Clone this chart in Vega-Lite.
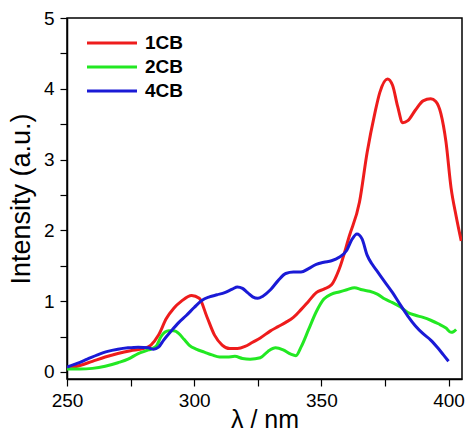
{
  "$schema": "https://vega.github.io/schema/vega-lite/v6.json",
  "width": 395,
  "height": 361,
  "autosize": "none",
  "padding": {"left": 67, "top": 18, "right": 8, "bottom": 56},
  "background": "white",
  "config": {
    "font": "Liberation Sans",
    "view": {"stroke": "black", "strokeWidth": 1.5},
    "axis": {"grid": false, "domainColor": "black", "tickColor": "black", "labelColor": "black", "titleColor": "black", "labelFont": "Liberation Sans", "titleFont": "Liberation Sans", "titleFontWeight": "normal", "labelFontSize": 19, "tickWidth": 1.2, "domainWidth": 1.5}
  },
  "data": {"values": [
    {"s":"1CB","x":250,"y":0.05},{"s":"1CB","x":255,"y":0.09},{"s":"1CB","x":260,"y":0.15},{"s":"1CB","x":265,"y":0.21},{"s":"1CB","x":270,"y":0.26},{"s":"1CB","x":275,"y":0.30},{"s":"1CB","x":280,"y":0.33},{"s":"1CB","x":283,"y":0.38},{"s":"1CB","x":286,"y":0.52},{"s":"1CB","x":289,"y":0.75},{"s":"1CB","x":292,"y":0.90},{"s":"1CB","x":295,"y":1.0},{"s":"1CB","x":299,"y":1.08},{"s":"1CB","x":302,"y":1.04},{"s":"1CB","x":305,"y":0.78},{"s":"1CB","x":308,"y":0.52},{"s":"1CB","x":311,"y":0.38},{"s":"1CB","x":314,"y":0.33},{"s":"1CB","x":317,"y":0.33},{"s":"1CB","x":320,"y":0.36},{"s":"1CB","x":323,"y":0.42},{"s":"1CB","x":326,"y":0.48},{"s":"1CB","x":330,"y":0.58},{"s":"1CB","x":333,"y":0.64},{"s":"1CB","x":336,"y":0.70},{"s":"1CB","x":339,"y":0.77},{"s":"1CB","x":342,"y":0.88},{"s":"1CB","x":345,"y":1.0},{"s":"1CB","x":348,"y":1.12},{"s":"1CB","x":351,"y":1.17},{"s":"1CB","x":354,"y":1.23},{"s":"1CB","x":357,"y":1.45},{"s":"1CB","x":361,"y":1.92},{"s":"1CB","x":365,"y":2.4},{"s":"1CB","x":368,"y":3.1},{"s":"1CB","x":371,"y":3.65},{"s":"1CB","x":373,"y":3.95},{"s":"1CB","x":376,"y":4.14},{"s":"1CB","x":378,"y":4.05},{"s":"1CB","x":380,"y":3.75},{"s":"1CB","x":382,"y":3.52},{"s":"1CB","x":384,"y":3.55},{"s":"1CB","x":387,"y":3.7},{"s":"1CB","x":390,"y":3.83},{"s":"1CB","x":393,"y":3.86},{"s":"1CB","x":395,"y":3.82},{"s":"1CB","x":397,"y":3.65},{"s":"1CB","x":399,"y":3.25},{"s":"1CB","x":401,"y":2.6},{"s":"1CB","x":403,"y":2.2},{"s":"1CB","x":405,"y":1.85},
    {"s":"2CB","x":250,"y":0.04},{"s":"2CB","x":255,"y":0.04},{"s":"2CB","x":260,"y":0.05},{"s":"2CB","x":265,"y":0.08},{"s":"2CB","x":270,"y":0.13},{"s":"2CB","x":274,"y":0.18},{"s":"2CB","x":278,"y":0.26},{"s":"2CB","x":282,"y":0.31},{"s":"2CB","x":285,"y":0.36},{"s":"2CB","x":287,"y":0.5},{"s":"2CB","x":290,"y":0.58},{"s":"2CB","x":292,"y":0.58},{"s":"2CB","x":294,"y":0.54},{"s":"2CB","x":296,"y":0.46},{"s":"2CB","x":298,"y":0.38},{"s":"2CB","x":301,"y":0.32},{"s":"2CB","x":304,"y":0.28},{"s":"2CB","x":307,"y":0.24},{"s":"2CB","x":310,"y":0.21},{"s":"2CB","x":313,"y":0.21},{"s":"2CB","x":316,"y":0.22},{"s":"2CB","x":319,"y":0.19},{"s":"2CB","x":322,"y":0.18},{"s":"2CB","x":326,"y":0.2},{"s":"2CB","x":329,"y":0.29},{"s":"2CB","x":332,"y":0.34},{"s":"2CB","x":335,"y":0.31},{"s":"2CB","x":338,"y":0.25},{"s":"2CB","x":340,"y":0.23},{"s":"2CB","x":342,"y":0.35},{"s":"2CB","x":345,"y":0.6},{"s":"2CB","x":348,"y":0.85},{"s":"2CB","x":351,"y":1.03},{"s":"2CB","x":354,"y":1.1},{"s":"2CB","x":357,"y":1.13},{"s":"2CB","x":360,"y":1.16},{"s":"2CB","x":363,"y":1.19},{"s":"2CB","x":366,"y":1.16},{"s":"2CB","x":369,"y":1.14},{"s":"2CB","x":372,"y":1.1},{"s":"2CB","x":375,"y":1.03},{"s":"2CB","x":378,"y":0.98},{"s":"2CB","x":381,"y":0.92},{"s":"2CB","x":384,"y":0.84},{"s":"2CB","x":387,"y":0.8},{"s":"2CB","x":390,"y":0.77},{"s":"2CB","x":393,"y":0.73},{"s":"2CB","x":396,"y":0.68},{"s":"2CB","x":399,"y":0.62},{"s":"2CB","x":401,"y":0.56},{"s":"2CB","x":402,"y":0.57},{"s":"2CB","x":403,"y":0.6},
    {"s":"4CB","x":250,"y":0.07},{"s":"4CB","x":254,"y":0.12},{"s":"4CB","x":258,"y":0.18},{"s":"4CB","x":262,"y":0.24},{"s":"4CB","x":266,"y":0.29},{"s":"4CB","x":270,"y":0.32},{"s":"4CB","x":274,"y":0.34},{"s":"4CB","x":278,"y":0.35},{"s":"4CB","x":282,"y":0.34},{"s":"4CB","x":284,"y":0.32},{"s":"4CB","x":286,"y":0.35},{"s":"4CB","x":288,"y":0.45},{"s":"4CB","x":291,"y":0.58},{"s":"4CB","x":294,"y":0.7},{"s":"4CB","x":297,"y":0.8},{"s":"4CB","x":300,"y":0.91},{"s":"4CB","x":303,"y":1.01},{"s":"4CB","x":306,"y":1.06},{"s":"4CB","x":309,"y":1.09},{"s":"4CB","x":312,"y":1.12},{"s":"4CB","x":315,"y":1.17},{"s":"4CB","x":317,"y":1.2},{"s":"4CB","x":319,"y":1.18},{"s":"4CB","x":321,"y":1.12},{"s":"4CB","x":323,"y":1.06},{"s":"4CB","x":325,"y":1.04},{"s":"4CB","x":327,"y":1.07},{"s":"4CB","x":330,"y":1.16},{"s":"4CB","x":333,"y":1.29},{"s":"4CB","x":336,"y":1.39},{"s":"4CB","x":339,"y":1.41},{"s":"4CB","x":342,"y":1.41},{"s":"4CB","x":345,"y":1.46},{"s":"4CB","x":348,"y":1.52},{"s":"4CB","x":351,"y":1.55},{"s":"4CB","x":354,"y":1.57},{"s":"4CB","x":357,"y":1.62},{"s":"4CB","x":360,"y":1.72},{"s":"4CB","x":362,"y":1.87},{"s":"4CB","x":364,"y":1.95},{"s":"4CB","x":366,"y":1.88},{"s":"4CB","x":368,"y":1.65},{"s":"4CB","x":370,"y":1.52},{"s":"4CB","x":372,"y":1.42},{"s":"4CB","x":375,"y":1.27},{"s":"4CB","x":378,"y":1.12},{"s":"4CB","x":381,"y":0.95},{"s":"4CB","x":384,"y":0.79},{"s":"4CB","x":387,"y":0.65},{"s":"4CB","x":390,"y":0.54},{"s":"4CB","x":393,"y":0.45},{"s":"4CB","x":396,"y":0.33},{"s":"4CB","x":398,"y":0.24},{"s":"4CB","x":400,"y":0.15}
  ]},
  "mark": {"type": "line", "interpolate": "monotone", "strokeWidth": 3, "clip": true},
  "encoding": {
    "x": {"field": "x", "type": "quantitative", "scale": {"domain": [250, 405.3], "nice": false, "zero": false},
      "axis": {"title": "λ / nm", "titleFontSize": 25, "titlePadding": -3, "values": [250,275,300,325,350,375,400], "labelExpr": "datum.value % 50 == 0 ? datum.label : ''", "tickSize": 7, "labelPadding": 5, "labelFlush": false}},
    "y": {"field": "y", "type": "quantitative", "scale": {"domain": [-0.1, 5], "nice": false, "zero": false},
      "axis": {"title": "Intensity (a.u.)", "titleFontSize": 27, "titlePadding": 8, "format": "~g", "values": [0,0.5,1,1.5,2,2.5,3,3.5,4,4.5,5], "labelExpr": "datum.value % 1 == 0 ? datum.label : ''", "tickSize": 7, "labelPadding": 6, "labelFlush": false}},
    "color": {"field": "s", "type": "nominal",
      "scale": {"domain": ["1CB","2CB","4CB"], "range": ["#ee1c1c","#22e822","#1a1ad6"]},
      "legend": {"title": null, "orient": "none", "legendX": 31, "legendY": 11, "symbolType": "M-2,0H2", "symbolSize": 625, "symbolStrokeWidth": 3, "labelFontSize": 19, "labelFontWeight": "bold", "labelFont": "Liberation Sans", "labelColor": "black", "rowPadding": 0, "labelOffset": 19}}
  }
}
